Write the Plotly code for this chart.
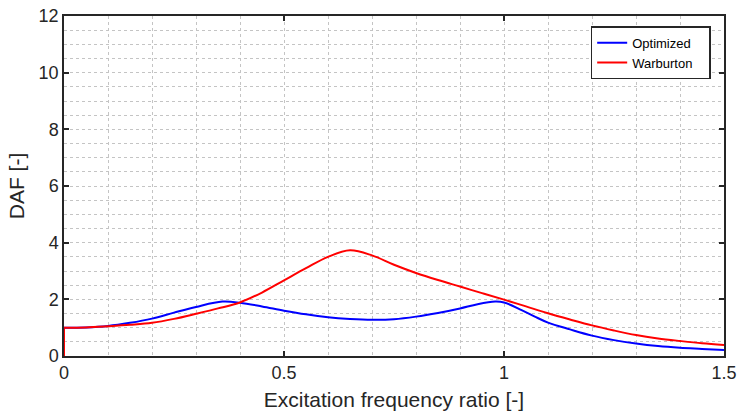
import plotly.graph_objects as go

freq_warb = [0.0, 0.0, 0.05, 0.1, 0.15, 0.2, 0.25, 0.3, 0.35, 0.4, 0.45, 0.5, 0.55, 0.6, 0.65,
             0.7, 0.75, 0.8, 0.85, 0.9, 0.95, 1.0, 1.05, 1.1, 1.15, 1.2, 1.25, 1.3, 1.35,
             1.4, 1.45, 1.5]
warburton = [0.0, 1.0, 1.01, 1.05, 1.10, 1.17, 1.31, 1.49, 1.68, 1.89, 2.24, 2.67, 3.10, 3.50, 3.73,
             3.55, 3.22, 2.93, 2.68, 2.45, 2.22, 1.99, 1.75, 1.51, 1.29, 1.08, 0.90, 0.74, 0.62,
             0.53, 0.45, 0.39]
freq_opt = [0.0, 0.0, 0.05, 0.1, 0.15, 0.2, 0.25, 0.3, 0.36, 0.4, 0.45, 0.5, 0.55, 0.6, 0.65,
            0.7, 0.75, 0.8, 0.85, 0.9, 0.94, 0.98, 1.0, 1.04, 1.07, 1.1, 1.15, 1.2, 1.25, 1.3,
            1.35, 1.4, 1.45, 1.5]
optimized = [0.0, 1.0, 1.01, 1.06, 1.17, 1.32, 1.53, 1.73, 1.92, 1.88, 1.75, 1.60, 1.47, 1.37, 1.31,
             1.28, 1.30, 1.39, 1.52, 1.68, 1.83, 1.92, 1.89, 1.62, 1.39, 1.18, 0.94, 0.72, 0.56, 0.44,
             0.35, 0.29, 0.25, 0.21]

x_ticks = [0, 0.5, 1, 1.5]
x_tick_labels = ["0", "0.5", "1", "1.5"]
y_ticks = [0, 2, 4, 6, 8, 10, 12]

FONT = "Liberation Sans, Arial, Helvetica"
PAD = "\u00a0\u00a0\u00a0"
fig = go.Figure()
for name, xs, ys, col in [("Optimized", freq_opt, optimized, "#0000ff"),
                          ("Warburton", freq_warb, warburton, "#ff0000")]:
    # initial jump at zero frequency (first two data points), drawn straight
    fig.add_trace(go.Scatter(x=xs[:2], y=ys[:2], mode="lines", showlegend=False,
                             hoverinfo="skip", line=dict(color=col, width=2)))
for name, xs, ys, col in [("Optimized", freq_opt, optimized, "#0000ff"),
                          ("Warburton", freq_warb, warburton, "#ff0000")]:
    fig.add_trace(go.Scatter(x=xs[1:], y=ys[1:], mode="lines", name=name + PAD,
                             line=dict(color=col, width=2, shape="spline", smoothing=1.0)))

axis_common = dict(showline=True, linecolor="#262626", linewidth=1.5, mirror="ticks",
                   ticks="inside", ticklen=5, tickcolor="#262626", tickwidth=1.5,
                   showgrid=True, gridcolor="#c4c4c4", griddash="dot", gridwidth=1,
                   zeroline=False, automargin=False,
                   tickfont=dict(family=FONT, size=18, color="#262626"),
                   title_font=dict(family=FONT, size=21, color="#262626"))

fig.update_xaxes(range=[0, 1.5], tickvals=x_ticks, ticktext=x_tick_labels,
                 title_text="Excitation frequency ratio [-]", title_standoff=10,
                 minor=dict(dtick=0.1, showgrid=True, gridcolor="#c4c4c4", griddash="dot",
                            gridwidth=1, ticks=""),
                 **axis_common)
fig.update_yaxes(range=[0, 12], tickvals=y_ticks, title_text="DAF [-]", title_standoff=8,
                 minor=dict(dtick=0.5, showgrid=True, gridcolor="#c4c4c4", griddash="dot",
                            gridwidth=1, ticks=""),
                 **axis_common)

fig.update_layout(width=739, height=419, margin=dict(l=64, r=15, t=16, b=63),
                  plot_bgcolor="white", paper_bgcolor="white",
                  legend=dict(x=0.798, y=0.97, xanchor="left", yanchor="top",
                              bgcolor="white", bordercolor="#262626", borderwidth=1.5,
                              font=dict(family=FONT, size=13, color="black"),
                              tracegroupgap=0, itemwidth=30))

fig.write_html("out.html")
